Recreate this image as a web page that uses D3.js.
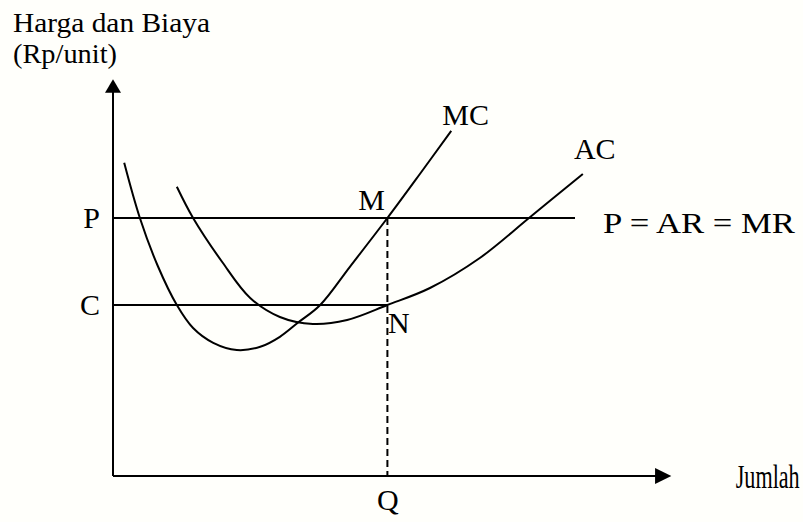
<!DOCTYPE html>
<html>
<head>
<meta charset="utf-8">
<script src="https://d3js.org/d3.v7.min.js"></script>
<style>
  body { margin: 0; background: #fffffb; }
  svg { display: block; }
  .lbl { font-family: "Liberation Serif", "Times New Roman", serif; fill: #000; }
  .axis text { font-family: "Liberation Serif", "Times New Roman", serif; font-size: 30px; fill: #000; }
  .axis path { display: none; }
</style>
</head>
<body>
<div id="chart"></div>
<script>
// quantity (0-100) and price (0-100)
const mcQty   = [2, 4.8, 8, 11.4, 14.3, 17.9, 22.1, 26.3, 29.8, 33, 37, 42.3, 49, 54.8, 60.4];
const mcCost  = [78.3, 64.5, 52.5, 42.75, 37, 33.3, 31.5, 32.3, 34.8, 38.3, 42.75, 52.3, 64.5, 75.5, 86.3];
const acQty   = [11.4, 14.3, 19.5, 24.5, 29.8, 35.7, 41.8, 49, 56.6, 65.5, 74.5, 83.9];
const acCost  = [72.3, 64.5, 53.5, 44.5, 39.75, 38, 39, 42.75, 47, 54.5, 64.75, 75.5];

const priceP = 64.5, costC = 42.75, qtyQ = 49, lineEnd = 82.5;
const yTicks = [priceP, costC], yTickNames = ["P", "C"];
const xTicks = [qtyQ], xTickNames = ["Q"];

const W = 803, H = 522;
const x = d3.scaleLinear().domain([0, 100]).range([113, 673]);
const y = d3.scaleLinear().domain([0, 100]).range([476, 76]);

const svg = d3.select("#chart").append("svg")
  .attr("width", W).attr("height", H);

svg.append("rect").attr("width", W).attr("height", H).attr("fill", "#fffffb");

// axis labels P, C and Q
svg.append("g").attr("class", "axis")
  .attr("transform", `translate(${x(0)},0)`)
  .call(d3.axisLeft(y).tickValues(yTicks).tickSize(0).tickPadding(13)
    .tickFormat((d, i) => yTickNames[i]));
svg.append("g").attr("class", "axis")
  .attr("transform", `translate(0,${y(0)})`)
  .call(d3.axisBottom(x).tickValues(xTicks).tickSize(0).tickPadding(13)
    .tickFormat((d, i) => xTickNames[i]));

// axes with arrows
const ink = "#000";
svg.append("line").attr("x1", x(0)).attr("y1", y(0)).attr("x2", x(0)).attr("y2", y(97))
  .attr("stroke", ink).attr("stroke-width", 2);
svg.append("path")
  .attr("d", `M${x(0)},${y(99.2)} L${x(0) - 8},${y(95.8)} L${x(0) + 8},${y(95.8)} Z`)
  .attr("fill", ink);
svg.append("line").attr("x1", x(0)).attr("y1", y(0)).attr("x2", x(97.5)).attr("y2", y(0))
  .attr("stroke", ink).attr("stroke-width", 2);
svg.append("path")
  .attr("d", `M${x(99.7)},${y(0)} L${x(96.8)},${y(0) - 8} L${x(96.8)},${y(0) + 8} Z`)
  .attr("fill", ink);

// P and C lines
svg.append("line").attr("x1", x(0)).attr("x2", x(lineEnd))
  .attr("y1", y(priceP)).attr("y2", y(priceP))
  .attr("stroke", ink).attr("stroke-width", 2);
svg.append("line").attr("x1", x(0)).attr("x2", x(qtyQ))
  .attr("y1", y(costC)).attr("y2", y(costC))
  .attr("stroke", ink).attr("stroke-width", 2);

// dashed line from M down to Q
svg.append("line").attr("x1", x(qtyQ)).attr("x2", x(qtyQ))
  .attr("y1", y(priceP)).attr("y2", y(0))
  .attr("stroke", ink).attr("stroke-width", 2).attr("stroke-dasharray", "7,4");

// cost curves
const line = d3.line()
  .x(d => x(d[0])).y(d => y(d[1]))
  .curve(d3.curveCatmullRom.alpha(0.5));
svg.append("path").datum(d3.zip(mcQty, mcCost))
  .attr("d", line).attr("fill", "none").attr("stroke", ink).attr("stroke-width", 2);
svg.append("path").datum(d3.zip(acQty, acCost))
  .attr("d", line).attr("fill", "none").attr("stroke", ink).attr("stroke-width", 2);

// text labels
const txt = (s, px, py, size, len) => {
  const t = svg.append("text").attr("class", "lbl")
    .attr("x", px).attr("y", py).attr("font-size", size).text(s);
  if (len) t.attr("textLength", len).attr("lengthAdjust", "spacingAndGlyphs");
  return t;
};
txt("Harga dan Biaya", 13, 32, 28, 197);
txt("(Rp/unit)", 13, 63, 28, 104);
txt("MC", x(58.8), 125, 30);
txt("AC", x(82.3), 159, 30);
txt("M", x(43.8), 210, 30);
txt("N", x(49.1), 333, 30);
txt("P = AR = MR", x(87.5), 233, 30, 192);

// "Jumlah" is drawn narrow in the picture: squeeze it horizontally
const jx = x(111.2);
const jum = svg.append("text").attr("class", "lbl")
  .attr("font-size", 33).text("Jumlah")
  .attr("transform", `translate(${jx},488)`);
const jw = jum.node().getComputedTextLength();
jum.attr("transform", `translate(${jx},488) scale(${64 / jw},1)`);
</script>
</body>
</html>
